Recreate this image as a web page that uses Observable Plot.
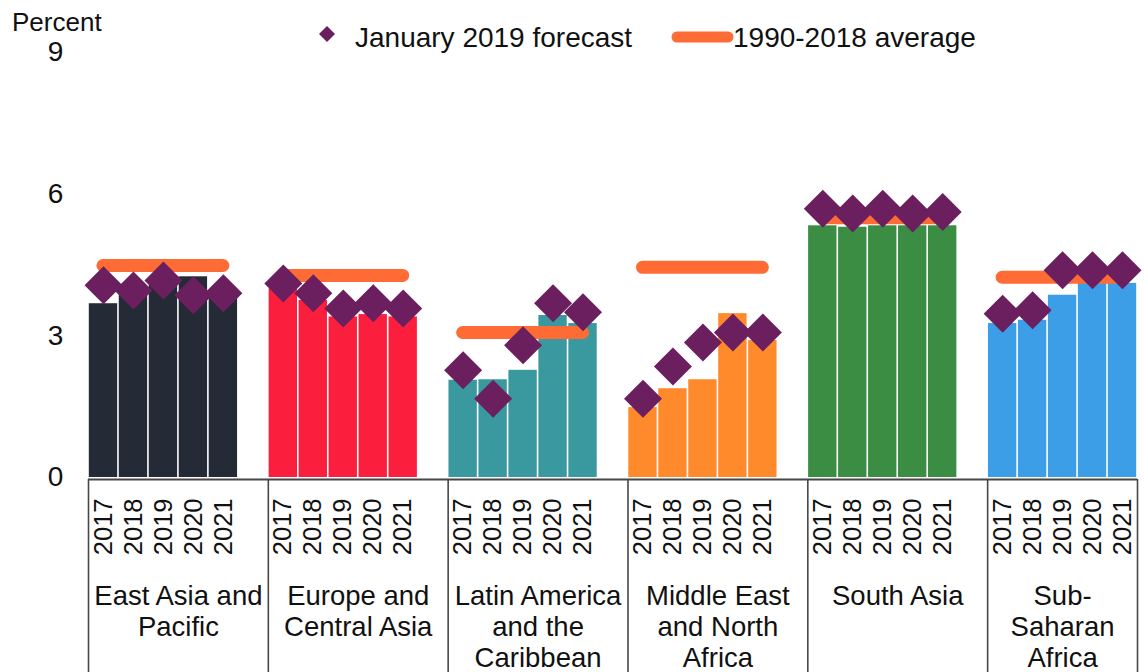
<!DOCTYPE html>
<html>
<head>
<meta charset="utf-8">
<script src="https://cdn.jsdelivr.net/npm/d3@7"></script>
<script src="https://cdn.jsdelivr.net/npm/@observablehq/plot@0.6"></script>
<style>
  html, body { margin: 0; padding: 0; background: #fff; overflow: hidden; }
  #chart { position: relative; width: 1144px; height: 672px; font-family: "Liberation Sans", Arial, Helvetica, sans-serif; }
  #chart > svg.header { position: absolute; left: 0; top: 0; pointer-events: none; }
</style>
</head>
<body>
<div id="chart"></div>
<script>
// Regional growth, 2017-2021, with the January 2019 forecast and the 1990-2018 average.
const regionNames = [
  "East Asia and Pacific",
  "Europe and Central Asia",
  "Latin America and the Caribbean",
  "Middle East and North Africa",
  "South Asia",
  "Sub-Saharan Africa"
];
const regionLabels = [
  "East Asia and\nPacific",
  "Europe and\nCentral Asia",
  "Latin America\nand the\nCaribbean",
  "Middle East\nand North\nAfrica",
  "South Asia",
  "Sub-\nSaharan\nAfrica"
];
const years = ["2017", "2018", "2019", "2020", "2021"];
const regionColors = ["#242a36", "#fb1f3d", "#3a989f", "#ff8a2c", "#3b8d43", "#3c9ee6"];

// Bars (percent)
const growthEAP = [3.68, 3.95, 4.15, 4.25, 3.95];
const growthECA = [4.0, 3.75, 3.4, 3.45, 3.4];
const growthLAC = [2.06, 2.07, 2.27, 3.43, 3.26];
const growthMNA = [1.48, 1.88, 2.07, 3.47, 2.9];
const growthSAR = [5.33, 5.3, 5.33, 5.33, 5.33];
const growthSSA = [3.26, 3.33, 3.86, 4.11, 4.11];

// January 2019 forecast (percent)
const forecastEAP = [4.07, 3.96, 4.17, 3.86, 3.9];
const forecastECA = [4.11, 3.9, 3.58, 3.69, 3.58];
const forecastLAC = [2.27, 1.67, 2.8, 3.69, 3.5];
const forecastMNA = [1.67, 2.35, 2.86, 3.07, 3.07];
const forecastSAR = [5.69, 5.59, 5.69, 5.59, 5.62];
const forecastSSA = [3.47, 3.54, 4.39, 4.39, 4.39];

// 1990-2018 average (percent)
const average1990to2018 = [4.49, 4.28, 3.07, 4.45, 5.5, 4.24];

const yTicks = [0, 3, 6, 9];

const growth = [growthEAP, growthECA, growthLAC, growthMNA, growthSAR, growthSSA];
const forecast = [forecastEAP, forecastECA, forecastLAC, forecastMNA, forecastSAR, forecastSSA];

// Each region takes one slot per year plus an empty slot before the next region.
const slotsPerRegion = years.length + 1;
const slotCount = regionNames.length * slotsPerRegion - 1;

const rows = regionNames.flatMap((region, r) =>
  years.map((year, j) => ({
    region, year,
    slot: r * slotsPerRegion + j,
    value: growth[r][j],
    forecast: forecast[r][j]
  }))
);
const averages = regionNames.map((region, r) => ({
  region,
  start: r * slotsPerRegion + 0.5,
  end: r * slotsPerRegion + years.length - 0.5,
  value: average1990to2018[r]
}));
const boxes = regionNames.map((region, r) => {
  const x1 = r * slotsPerRegion;
  const x2 = Math.min(x1 + slotsPerRegion, slotCount);
  return {region, label: regionLabels[r], x1, x2, center: (x1 + x2) / 2};
});
const edges = [...boxes.map(b => b.x1), slotCount];
const yearAt = new Map(rows.map(d => [d.slot + 0.5, d.year]));

// A square diamond whose half-diagonal equals the dot radius.
const squareDiamond = {
  draw(context, size) {
    const h = Math.sqrt(size / Math.PI);
    context.moveTo(0, -h);
    context.lineTo(h, 0);
    context.lineTo(0, h);
    context.lineTo(-h, 0);
    context.closePath();
  }
};

const labelDepth = -4.3; // how far the label boxes reach below zero, in y units

const chart = Plot.plot({
  width: 1144,
  height: 672,
  marginLeft: 88,
  marginRight: 7,
  marginTop: 52,
  marginBottom: 195,
  style: {
    fontFamily: "'Liberation Sans', Arial, Helvetica, sans-serif",
    fontSize: "25px",
    color: "#111",
    background: "transparent",
    overflow: "visible"
  },
  x: {type: "linear", domain: [0, slotCount], axis: null},
  y: {domain: [0, 9], axis: null},
  color: {domain: regionNames, range: regionColors},
  marks: [
    Plot.rectY(rows, {
      x1: "slot", x2: d => d.slot + 1, y: "value",
      fill: "region", insetLeft: 0.8, insetRight: 0.8
    }),
    Plot.ruleY(averages, {
      x1: "start", x2: "end", y: "value",
      stroke: "#ff6b35", strokeWidth: 13, strokeLinecap: "round"
    }),
    Plot.dot(rows, {
      x: d => d.slot + 0.5, y: "forecast",
      symbol: squareDiamond, r: 19, fill: "#6b1f5f", stroke: "none"
    }),
    Plot.ruleY([0], {stroke: "#474747", strokeWidth: 2, dy: 2}),
    Plot.ruleX(edges, {x: d => d, y1: 0, y2: labelDepth, stroke: "#474747", strokeWidth: 1.6, dy: 2}),
    Plot.axisX([...yearAt.keys()], {
      tickFormat: v => yearAt.get(v),
      tickSize: 0, tickPadding: 21, tickRotate: -90,
      textAnchor: "end", fontSize: 25.5, label: null, fill: "#111"
    }),
    Plot.axisY(yTicks, {
      tickSize: 0, tickPadding: 33, textAnchor: "middle",
      fontSize: 28, label: null, fill: "#111"
    }),
    Plot.text(boxes, {
      x: "center", y: 0, text: "label",
      lineAnchor: "top", dy: 105, fontSize: 27.5, lineHeight: 1.14, fill: "#111"
    })
  ]
});

const root = document.getElementById("chart");
root.appendChild(chart);

// Header: unit label and legend.
const header = d3.create("svg")
  .attr("class", "header")
  .attr("width", 1144)
  .attr("height", 60)
  .style("font-family", "'Liberation Sans', Arial, Helvetica, sans-serif")
  .style("fill", "#111");

header.append("text").attr("x", 12).attr("y", 31).attr("font-size", 26).text("Percent");

header.append("path")
  .attr("d", "M327,26 L335,34 L327,42 L319,34 Z")
  .attr("fill", "#6b1f5f");
header.append("text").attr("x", 355).attr("y", 47).attr("font-size", 28).text("January 2019 forecast");

header.append("line")
  .attr("x1", 677).attr("x2", 728).attr("y1", 37).attr("y2", 37)
  .attr("stroke", "#ff6b35").attr("stroke-width", 11).attr("stroke-linecap", "round");
header.append("text").attr("x", 733).attr("y", 47).attr("font-size", 28).text("1990-2018 average");

root.appendChild(header.node());
</script>
</body>
</html>
